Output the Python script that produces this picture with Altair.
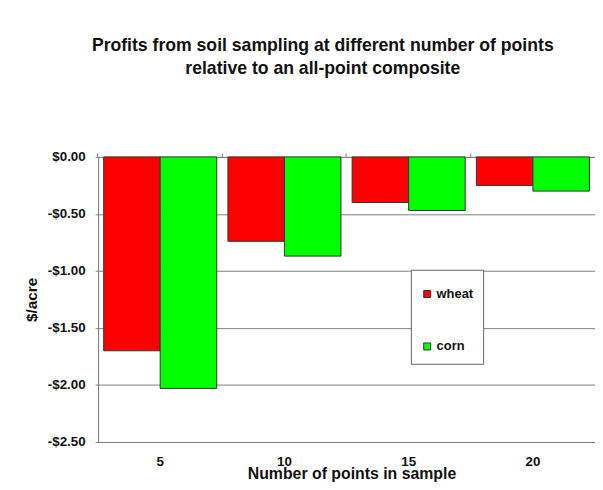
import altair as alt
import pandas as pd

# Data
points = ["5", "10", "15", "20"]
wheat = [-1.70, -0.74, -0.40, -0.25]
corn = [-2.03, -0.87, -0.47, -0.30]
crops = ["wheat", "corn"]
crop_colors = ["#FF0000", "#00FF00"]
y_ticks = [0.0, -0.5, -1.0, -1.5, -2.0, -2.5]
title_lines = ["Profits from soil sampling at different number of points",
               "relative to an all-point composite"]

rows = []
for i, p in enumerate(points):
    rows.append({"points": p, "crop": "wheat", "value": wheat[i]})
    rows.append({"points": p, "crop": "corn", "value": corn[i]})
df = pd.DataFrame(rows)

FONT = "Liberation Sans"

x_scale = alt.Scale(paddingInner=0.09, paddingOuter=0.045)
y_scale = alt.Scale(domain=[-2.5, 0], nice=False)
color_enc = alt.Color(
    "crop:N", sort=crops,
    scale=alt.Scale(domain=crops, range=crop_colors),
    legend=alt.Legend(title=" ", titleFontSize=6, titlePadding=2,
                      orient="none", legendX=316, legendY=114,
                      fillColor="white", strokeColor="#666666",
                      padding=10, rowPadding=39,
                      symbolType="square", symbolSize=50,
                      symbolStrokeColor="#333333", symbolStrokeWidth=1,
                      labelFont=FONT, labelFontSize=13,
                      labelFontWeight="bold", labelColor="#111111",
                      labelOffset=3))

bars = alt.Chart(df).mark_bar(stroke="#333333", strokeWidth=1).encode(
    x=alt.X("points:N", sort=points, scale=x_scale,
            axis=alt.Axis(title="Number of points in sample", labelAngle=0,
                          ticks=False, labelPadding=13, domainColor="#808080",
                          labelFont=FONT, labelFontSize=13.5, labelFontWeight="bold",
                          labelColor="#111111",
                          titleFont=FONT, titleFontSize=16, titleFontWeight="bold",
                          titleColor="#111111", titleY=24, titleX=256,
                          titleBaseline="top", titleAlign="center")),
    xOffset=alt.XOffset("crop:N", sort=crops, scale=alt.Scale(paddingInner=0)),
    y=alt.Y("value:Q", scale=y_scale,
            axis=alt.Axis(title="$/acre", values=y_ticks,
                          labelExpr="datum.value < 0 ? '-$' + format(-datum.value, '.2f') : '$' + format(datum.value, '.2f')",
                          grid=True, gridColor="#808080", gridWidth=1,
                          domainColor="#808080", tickColor="#808080", tickSize=3,
                          labelPadding=10,
                          labelFont=FONT, labelFontSize=13.5, labelFontWeight="bold",
                          labelColor="#111111",
                          titleFont=FONT, titleFontSize=15.5, titleFontWeight="bold",
                          titleColor="#111111", titlePadding=8)),
    color=color_enc,
)

# invisible layer that only carries the small category-boundary ticks along the zero line
top_ticks = alt.Chart(df).mark_bar(opacity=0).encode(
    x=alt.X("points:N", sort=points, scale=x_scale,
            axis=alt.Axis(orient="top", title=None, labels=False, domain=False,
                          ticks=True, tickSize=4, tickColor="#808080",
                          bandPosition=-0.05)),
    xOffset=alt.XOffset("crop:N", sort=crops, scale=alt.Scale(paddingInner=0)),
    y=alt.Y("value:Q", scale=y_scale, axis=None),
    color=color_enc,
)

chart = alt.layer(bars, top_ticks).resolve_axis(
    x="independent", y="independent"
).properties(
    width=502,
    height=288,
    title=alt.TitleParams(text=title_lines, font=FONT, fontSize=17.8, fontWeight="bold",
                          color="#111111", anchor="middle", frame="group",
                          offset=73, dx=-24, lineHeight=23),
    autosize=alt.AutoSizeParams(type="none"),
    padding={"left": 91, "top": 148, "right": 0, "bottom": 40},
).configure(background="white").configure_view(stroke="#808080", strokeWidth=1)

chart.save("out.html", embed_options={"renderer": "svg", "actions": False})
